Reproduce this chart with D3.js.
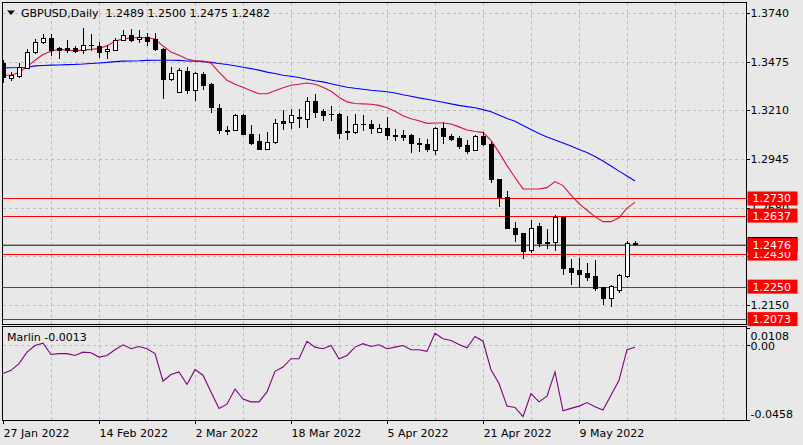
<!DOCTYPE html>
<html>
<head>
<meta charset="utf-8">
<script src="https://cdn.jsdelivr.net/npm/d3@7"></script>
<style>
  html, body { margin: 0; padding: 0; background: #e8e8e8; }
  svg { display: block; font-family: "DejaVu Sans", sans-serif; font-size: 11px; }
</style>
</head>
<body>
<svg id="chart" width="803" height="445"></svg>
<script>
// GBPUSD daily, 27 Jan - 18 May 2022 (one bar per trading day)
const symbolTitle = "GBPUSD,Daily";
const opens  = [1.3467,1.3386,1.3397,1.3441,1.3525,1.3580,1.3602,1.3547,1.3550,1.3547,
                1.3536,1.3566,1.3558,1.3532,1.3538,1.3592,1.3620,1.3596,1.3610,1.3596,
                1.3542,1.3379,1.3310,1.3423,1.3323,1.3407,1.3352,1.3225,1.3104,1.3104,
                1.3183,1.3083,1.3041,1.3001,1.3037,1.3150,1.3146,1.3173,1.3165,1.3261,
                1.3205,1.3192,1.3188,1.3095,1.3091,1.3137,1.3137,1.3091,1.3115,1.3075,
                1.3073,1.3073,1.3031,1.3028,1.2995,1.3115,1.3068,1.3059,1.3019,1.2995,
                1.3068,1.3028,1.2837,1.2740,1.2569,1.2542,1.2449,1.2582,1.2494,1.2494,
                1.2631,1.2351,1.2340,1.2325,1.2308,1.2248,1.2190,1.2230,1.2310,1.2489];
const highs  = [1.3483,1.3419,1.3467,1.3542,1.3596,1.3624,1.3624,1.3556,1.3592,1.3561,
                1.3656,1.3624,1.3583,1.3565,1.3602,1.3647,1.3653,1.3647,1.3631,1.3629,
                1.3547,1.3447,1.3438,1.3447,1.3419,1.3419,1.3359,1.3247,1.3123,1.3192,
                1.3192,1.3128,1.3083,1.3091,1.3165,1.3214,1.3219,1.3219,1.3283,1.3301,
                1.3219,1.3232,1.3194,1.3177,1.3188,1.3183,1.3159,1.3133,1.3173,1.3110,
                1.3104,1.3083,1.3061,1.3055,1.3119,1.3146,1.3079,1.3068,1.3046,1.3073,
                1.3091,1.3037,1.2837,1.2773,1.2600,1.2542,1.2614,1.2594,1.2564,1.2642,
                1.2631,1.2400,1.2405,1.2376,1.2394,1.2248,1.2259,1.2321,1.2496,1.2500];
const lows   = [1.3363,1.3374,1.3392,1.3440,1.3520,1.3574,1.3510,1.3496,1.3529,1.3529,
                1.3520,1.3538,1.3501,1.3493,1.3538,1.3592,1.3587,1.3583,1.3565,1.3540,
                1.3277,1.3374,1.3308,1.3304,1.3268,1.3325,1.3201,1.3086,1.3083,1.3104,
                1.3079,1.3028,1.3001,1.2999,1.3031,1.3110,1.3115,1.3119,1.3119,1.3173,
                1.3159,1.3159,1.3062,1.3052,1.3086,1.3101,1.3086,1.3091,1.3055,1.3050,
                1.3050,1.2982,1.2988,1.2991,1.2973,1.3031,1.3050,1.3006,1.2977,1.2995,
                1.3019,1.2818,1.2691,1.2567,1.2496,1.2405,1.2441,1.2472,1.2463,1.2449,
                1.2318,1.2266,1.2250,1.2285,1.2230,1.2157,1.2145,1.2223,1.2303,1.2475];
const closes = [1.3390,1.3405,1.3447,1.3525,1.3580,1.3602,1.3538,1.3536,1.3536,1.3532,
                1.3565,1.3564,1.3529,1.3543,1.3592,1.3620,1.3592,1.3607,1.3589,1.3542,
                1.3379,1.3416,1.3428,1.3319,1.3411,1.3347,1.3228,1.3101,1.3097,1.3183,
                1.3083,1.3031,1.3001,1.3037,1.3143,1.3141,1.3183,1.3170,1.3261,1.3201,
                1.3186,1.3188,1.3084,1.3090,1.3133,1.3133,1.3115,1.3115,1.3073,1.3068,
                1.3064,1.3031,1.3026,1.2997,1.3115,1.3068,1.3053,1.3015,1.2991,1.3068,
                1.3028,1.2837,1.2736,1.2567,1.2536,1.2445,1.2569,1.2485,1.2485,1.2627,
                1.2351,1.2332,1.2321,1.2305,1.2245,1.2190,1.2254,1.2314,1.2487,1.2482];

// moving averages as drawn on the chart
const maFast = [1.3401,1.3401,1.3416,1.3447,1.3483,1.3514,1.3532,1.3543,1.3538,1.3534,
                1.3538,1.3542,1.3547,1.3561,1.3587,1.3598,1.3605,1.3605,1.3605,1.3598,
                1.3560,1.3527,1.3510,1.3489,1.3480,1.3478,1.3467,1.3418,1.3374,1.3352,
                1.3336,1.3317,1.3300,1.3300,1.3317,1.3333,1.3347,1.3352,1.3359,1.3352,
                1.3336,1.3314,1.3281,1.3256,1.3247,1.3245,1.3243,1.3237,1.3224,1.3205,
                1.3180,1.3164,1.3153,1.3139,1.3141,1.3141,1.3136,1.3120,1.3103,1.3095,
                1.3090,1.3046,1.2981,1.2909,1.2844,1.2782,1.2782,1.2782,1.2789,1.2822,
                1.2800,1.2748,1.2702,1.2666,1.2631,1.2604,1.2604,1.2625,1.2678,1.2709];
const maSlow = [1.3441,1.3442,1.3443,1.3445,1.3452,1.3454,1.3456,1.3457,1.3459,1.3460,
                1.3462,1.3465,1.3468,1.3471,1.3475,1.3478,1.3479,1.3480,1.3482,1.3483,
                1.3483,1.3483,1.3482,1.3479,1.3478,1.3475,1.3471,1.3465,1.3460,1.3453,
                1.3445,1.3437,1.3429,1.3418,1.3411,1.3401,1.3396,1.3389,1.3379,1.3371,
                1.3365,1.3355,1.3345,1.3336,1.3330,1.3325,1.3319,1.3315,1.3311,1.3304,
                1.3295,1.3287,1.3278,1.3270,1.3262,1.3254,1.3245,1.3237,1.3230,1.3224,
                1.3214,1.3202,1.3185,1.3166,1.3150,1.3128,1.3106,1.3084,1.3065,1.3049,
                1.3032,1.3016,1.2997,1.2981,1.2959,1.2934,1.2907,1.2879,1.2852,1.2825];

// Marlin oscillator
const marlin = [-0.0174,-0.0154,-0.0113,-0.0043,-0.0002,0.0012,-0.0057,-0.0052,-0.0052,-0.0063,
                -0.0043,-0.0046,-0.0073,-0.0063,-0.0028,0.0002,-0.0022,-0.0008,-0.0022,-0.0052,
                -0.0221,-0.0180,-0.0164,-0.0241,-0.0150,-0.0184,-0.0286,-0.0387,-0.0361,-0.0268,
                -0.0330,-0.0347,-0.0347,-0.0286,-0.0160,-0.0134,-0.0083,-0.0083,0.0024,-0.0012,
                -0.0022,-0.0002,-0.0083,-0.0063,-0.0012,0.0009,-0.0008,0.0002,-0.0022,-0.0012,
                -0.0002,-0.0028,-0.0028,-0.0038,0.0073,0.0039,0.0029,0.0004,-0.0016,0.0053,
                0.0024,-0.0150,-0.0235,-0.0373,-0.0381,-0.0438,-0.0296,-0.0347,-0.0312,-0.0164,
                -0.0402,-0.0387,-0.0373,-0.0351,-0.0377,-0.0397,-0.0306,-0.0215,-0.0028,-0.0013];

const levels = [1.2730, 1.2637, 1.2476, 1.2430, 1.2250, 1.2073];
const bidPrice = 1.2482;
const priceTicks = [1.3740, 1.3475, 1.3210, 1.2945, 1.2680, 1.2415, 1.2150];
const marlinTicks = [0.0108, 0, -0.0458];
const dateTicks = ["2022-01-27", "2022-02-14", "2022-03-02", "2022-03-18", "2022-04-05", "2022-04-21", "2022-05-09"];

// trading days (weekdays) that the bars belong to
const days = d3.timeDay.range(new Date(2022, 0, 27), new Date(2022, 4, 19))
    .filter(d => d.getDay() !== 0 && d.getDay() !== 6);
const isoFmt = d3.timeFormat("%Y-%m-%d");
const dateFmt = d3.timeFormat("%-d %b %Y");
// plain hyphen for negatives, like the terminal does
const f4 = v => v.toFixed(4);

// layout of the two panes
const plotLeft = 2.5, plotRight = 746.5;
const mainTop = 2.5, mainBottom = 324.5;
const subTop = 326.5, subBottom = 420.5;

const svg = d3.select("#chart");

const x = d3.scaleLinear().domain([0, opens.length - 1]).range([3, 635]);
const y = d3.scaleLinear().domain([1.2150, 1.3740]).range([305, 13]);
const ym = d3.scaleLinear().domain([-0.0458, 0.0108]).range([420, 327.5]);

const snap = v => Math.round(v) + 0.5;

svg.append("rect").attr("width", 803).attr("height", 445).attr("fill", "#e8e8e8");

svg.append("defs").append("clipPath").attr("id", "mainClip")
    .append("rect").attr("x", plotLeft).attr("y", mainTop)
    .attr("width", plotRight - plotLeft).attr("height", mainBottom - mainTop);

// grid
const grid = svg.append("g")
    .attr("stroke", "#bcbcbc").attr("stroke-dasharray", "3,3")
    .attr("shape-rendering", "crispEdges");
const gridIdx = d3.range(6, 91, 6);
gridIdx.forEach(i => {
    grid.append("line").attr("x1", snap(x(i))).attr("x2", snap(x(i)))
        .attr("y1", mainTop).attr("y2", mainBottom);
    grid.append("line").attr("x1", snap(x(i))).attr("x2", snap(x(i)))
        .attr("y1", subTop).attr("y2", subBottom);
});
priceTicks.forEach(p => {
    grid.append("line").attr("x1", plotLeft).attr("x2", plotRight)
        .attr("y1", snap(y(p))).attr("y2", snap(y(p)));
});
grid.append("line").attr("x1", plotLeft).attr("x2", plotRight)
    .attr("y1", snap(ym(0))).attr("y2", snap(ym(0)));

const main = svg.append("g").attr("clip-path", "url(#mainClip)");

// bid line and horizontal levels
main.append("line")
    .attr("x1", plotLeft).attr("x2", plotRight)
    .attr("y1", snap(y(bidPrice))).attr("y2", snap(y(bidPrice)))
    .attr("stroke", "#a8a8a8").attr("shape-rendering", "crispEdges");

main.selectAll(".level").data(levels).join("line")
    .attr("class", "level")
    .attr("x1", plotLeft).attr("x2", plotRight)
    .attr("y1", d => snap(y(d))).attr("y2", d => snap(y(d)))
    .attr("stroke", "#ff0000").attr("stroke-width", 1.3)
    .attr("shape-rendering", "crispEdges");

// moving averages
const maLine = d3.line().x((d, i) => x(i)).y(d => y(d));
main.append("path").attr("d", maLine(maSlow))
    .attr("fill", "none").attr("stroke", "#0000ff").attr("stroke-width", 1.1);
main.append("path").attr("d", maLine(maFast))
    .attr("fill", "none").attr("stroke", "#e0103c").attr("stroke-width", 1.1);

// candles
const candles = main.append("g").attr("shape-rendering", "crispEdges");
opens.forEach((o, i) => {
    const c = closes[i];
    const cx = Math.round(x(i));
    const top = Math.round(y(Math.max(o, c)));
    const bot = Math.round(y(Math.min(o, c)));
    candles.append("line")
        .attr("x1", cx + 0.5).attr("x2", cx + 0.5)
        .attr("y1", Math.round(y(highs[i]))).attr("y2", Math.round(y(lows[i])) + 1)
        .attr("stroke", "#000");
    if (c >= o) {
        candles.append("rect")
            .attr("x", cx - 1.5).attr("y", top + 0.5)
            .attr("width", 4).attr("height", Math.max(bot - top, 1))
            .attr("fill", "#fff").attr("stroke", "#000");
    } else {
        candles.append("rect")
            .attr("x", cx - 2).attr("y", top)
            .attr("width", 5).attr("height", Math.max(bot - top + 1, 1))
            .attr("fill", "#000");
    }
});

// marlin pane
svg.append("path")
    .attr("d", d3.line().x((d, i) => x(i)).y(d => ym(d))(marlin))
    .attr("fill", "none").attr("stroke", "#800080").attr("stroke-width", 1.1);

// frames
svg.append("rect").attr("x", plotLeft).attr("y", mainTop)
    .attr("width", plotRight - plotLeft).attr("height", mainBottom - mainTop)
    .attr("fill", "none").attr("stroke", "#000").attr("shape-rendering", "crispEdges");
svg.append("rect").attr("x", plotLeft).attr("y", subTop)
    .attr("width", plotRight - plotLeft).attr("height", subBottom - subTop)
    .attr("fill", "none").attr("stroke", "#000").attr("shape-rendering", "crispEdges");

// axes
const styleAxis = g => {
    g.attr("font-size", 11).attr("font-family", "DejaVu Sans, sans-serif");
    g.select(".domain").remove();
    g.selectAll(".tick line").attr("stroke", "#000").attr("shape-rendering", "crispEdges");
    g.selectAll(".tick text").attr("fill", "#000");
};

svg.append("g")
    .attr("transform", `translate(${plotRight},0)`)
    .call(d3.axisRight(y).tickValues(priceTicks).tickSize(3).tickPadding(1).tickFormat(f4))
    .call(styleAxis);

svg.append("g")
    .attr("transform", `translate(${plotRight},0)`)
    .call(d3.axisRight(ym).tickValues(marlinTicks).tickSize(3).tickPadding(1)
        .tickFormat(d => d === 0 ? "0.00" : f4(d)))
    .call(styleAxis)
    .call(g => g.selectAll(".tick text")
        .attr("dy", null)
        .attr("y", d => d > 0 ? 11.5 : d < 0 ? -3 : 4));

const dateIdx = dateTicks.map(s => days.findIndex(d => isoFmt(d) === s));
svg.append("g")
    .attr("transform", `translate(0,${subBottom})`)
    .call(d3.axisBottom(x).tickValues(dateIdx).tickSize(3)
        .tickFormat(i => dateFmt(days[i])))
    .call(styleAxis)
    .call(g => g.selectAll(".tick text")
        .attr("text-anchor", "start").attr("x", 0).attr("dy", null).attr("y", 16.5));

// bid box and level labels on the price scale
svg.append("rect")
    .attr("x", 747.5).attr("y", y(bidPrice) - 7)
    .attr("width", 50).attr("height", 14).attr("fill", "#000");

const levelLabels = svg.selectAll(".levelLabel")
    .data(levels.slice().sort(d3.ascending)).join("g")
    .attr("class", "levelLabel")
    .attr("transform", d => `translate(747.5,${y(d)})`);
levelLabels.append("rect")
    .attr("y", -7).attr("width", 50).attr("height", 14).attr("fill", "#ff0000");
levelLabels.append("text")
    .attr("x", 5).attr("y", 4).attr("fill", "#fff")
    .text(d => f4(d));

// title and indicator name
svg.append("path")
    .attr("d", "M7,10.5 L15,10.5 L11,15 Z").attr("fill", "#000");
svg.append("text")
    .attr("x", 21).attr("y", 17).attr("fill", "#000")
    .style("white-space", "pre")
    .text(`${symbolTitle}  ${[opens[79], highs[79], lows[79], closes[79]].map(f4).join(" ")}`);
svg.append("text")
    .attr("x", 7).attr("y", 341).attr("fill", "#000")
    .text(`Marlin ${f4(marlin[marlin.length - 1])}`);
</script>
</body>
</html>
